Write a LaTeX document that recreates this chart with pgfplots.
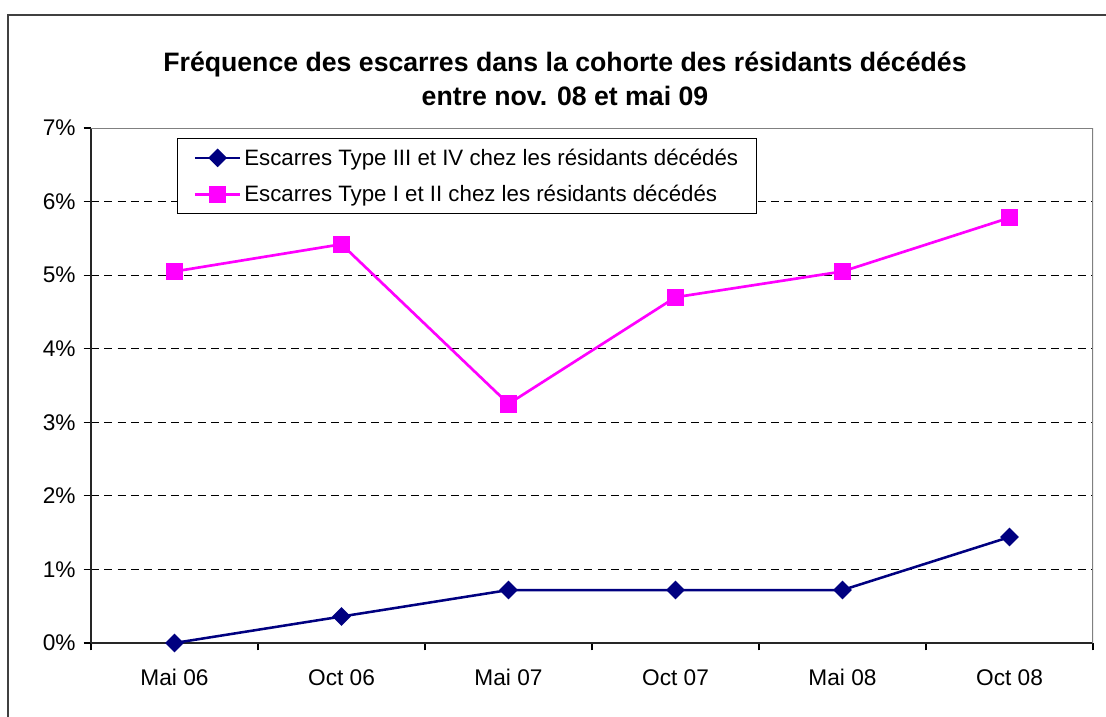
\documentclass[border=0pt]{standalone}
\usepackage{fontspec}
\setmainfont{Liberation Sans}
\usepackage{pgfplots}
\pgfplotsset{compat=1.18}
\definecolor{serieblue}{HTML}{000080}
\definecolor{seriepink}{HTML}{FF00FF}
\begin{document}
\begin{tikzpicture}
\useasboundingbox (0,0) rectangle (829.5pt,537.75pt);
% outer chart frame (runs off the right and bottom edges)
\draw[line width=1.5pt, black!75] (6pt,-5pt) rectangle (840pt,526.5pt);
\node[font=\fontsize{20}{25.5}\selectfont\bfseries, align=center] at (423.75pt,478.5pt)
  {Fréquence des escarres dans la cohorte des résidants décédés\\entre nov. 08 et mai 09};
\begin{axis}[
  at={(68.25pt,55.5pt)}, anchor=south west,
  scale only axis, width=751.5pt, height=386.25pt,
  xmin=-0.5, xmax=5.5, ymin=0, ymax=7,
  axis x line*=bottom, axis y line*=left,
  axis line style={line width=1.3pt, black!85},
  xtick={0,...,5},
  xticklabels={Mai 06,Oct 06,Mai 07,Oct 07,Mai 08,Oct 08},
  major x tick style={draw=none},
  minor xtick={-0.5,0.5,...,5.5},
  ytick={0,...,7},
  yticklabel={\pgfmathprintnumber{\tick}\%},
  /pgf/number format/assume math mode=true,
  tick align=outside, major tick length=5.5pt, minor tick length=5.5pt,
  tick style={line width=0.9pt, black},
  ticklabel style={font=\fontsize{17}{20.4}\selectfont},
  xticklabel style={yshift=-10.5pt, text height=12.4pt, text depth=3.5pt},
  yticklabel style={xshift=-2.5pt},
  ymajorgrids, grid style={black, line width=0.75pt, dash pattern=on 6pt off 4pt},
  legend style={at={(axis description cs:0.0858,0.9806)}, anchor=north west,
    draw=black, line width=1pt, fill=white, inner xsep=12pt, inner ysep=5.5pt,
    row sep=9.5pt, cells={anchor=west}, font=\fontsize{16.7}{20}\selectfont},
  legend image code/.code={\draw[mark repeat=2, mark phase=2]
    plot coordinates {(0pt,0pt) (17pt,0pt) (34pt,0pt)};},
]
\addplot[serieblue, line width=1.9pt, mark=square*, mark size=4pt,
  mark options={rotate=45, solid}]
  coordinates {(0,0) (1,0.36) (2,0.72) (3,0.72) (4,0.72) (5,1.44)};
\addlegendentry{Escarres Type III et IV chez les résidants décédés}
\addplot[seriepink, line width=2pt, mark=square*, mark size=5.5pt,
  mark options={solid}]
  coordinates {(0,5.05) (1,5.42) (2,3.25) (3,4.70) (4,5.05) (5,5.78)};
\addlegendentry{Escarres Type I et II chez les résidants décédés}
\draw[line width=1.5pt, gray] (rel axis cs:0,1) -- (rel axis cs:1,1) -- (rel axis cs:1,0);
\end{axis}
\end{tikzpicture}
\end{document}
